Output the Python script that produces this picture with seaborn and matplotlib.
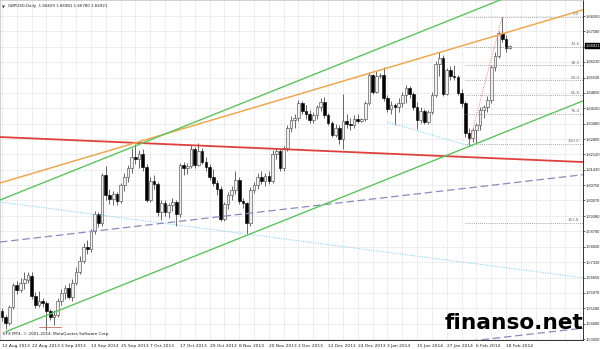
import numpy as np
import pandas as pd
import matplotlib
matplotlib.use("Agg")
import matplotlib.pyplot as plt
import matplotlib.transforms as mtransforms
import seaborn as sns

# ---------------- data ----------------
title_text = "GBPUSD,Daily  1.66829 1.66981 1.66780 1.66921"
copyright_text = "EFX MT4, \u00a9 2001-2014, MetaQuotes Software Corp."
watermark_text = "finanso.net"

dates = pd.bdate_range("2013-08-12", "2014-02-19")

opens = [1.5515,1.5490,1.5465,1.5535,1.5630,1.5610,1.5640,1.5655,1.5670,1.5585,
         1.5545,1.5560,1.5550,1.5515,1.5490,1.5500,1.5560,1.5595,1.5620,1.5580,
         1.5640,1.5690,1.5740,1.5800,1.5790,1.5870,1.5945,1.5905,1.6120,1.6030,
         1.6015,1.6035,1.6005,1.6075,1.6110,1.6150,1.6200,1.6190,1.6215,1.6155,
         1.6010,1.6095,1.6080,1.5955,1.5995,1.5955,1.5985,1.6000,1.5945,1.6165,
         1.6150,1.6160,1.6235,1.6165,1.6225,1.6180,1.6155,1.6110,1.6085,1.6060,
         1.5925,1.5990,1.6030,1.6055,1.6100,1.6005,1.5995,1.5905,1.6055,1.6075,
         1.6110,1.6095,1.6115,1.6095,1.6215,1.6225,1.6150,1.6240,1.6330,1.6365,
         1.6375,1.6440,1.6405,1.6390,1.6365,1.6385,1.6420,1.6445,1.6385,1.6350,
         1.6300,1.6330,1.6280,1.6360,1.6345,1.6340,1.6370,1.6360,1.6370,1.6440,
         1.6565,1.6490,1.6560,1.6565,1.6460,1.6415,1.6430,1.6420,1.6440,1.6475,
         1.6505,1.6480,1.6420,1.6365,1.6405,1.6355,1.6400,1.6475,1.6615,1.6640,
         1.6480,1.6585,1.6560,1.6555,1.6485,1.6440,1.6305,1.6285,1.6320,1.6340,
         1.6410,1.6420,1.6455,1.6600,1.6650,1.6750,1.6725,1.66829]
highs = [1.5530,1.5500,1.5545,1.5640,1.5650,1.5665,1.5690,1.5690,1.5690,1.5600,
         1.5605,1.5575,1.5560,1.5525,1.5520,1.5575,1.5615,1.5630,1.5640,1.5660,
         1.5710,1.5760,1.5820,1.5830,1.5880,1.5960,1.5955,1.6130,1.6160,1.6060,
         1.6050,1.6045,1.6085,1.6130,1.6165,1.6240,1.6259,1.6230,1.6235,1.6170,
         1.6110,1.6120,1.6090,1.6010,1.6010,1.5995,1.6020,1.6010,1.6175,1.6180,
         1.6175,1.6255,1.6245,1.6262,1.6240,1.6200,1.6170,1.6145,1.6100,1.6070,
         1.6000,1.6045,1.6070,1.6140,1.6110,1.6020,1.6000,1.6065,1.6090,1.6130,
         1.6140,1.6130,1.6140,1.6230,1.6240,1.6235,1.6250,1.6340,1.6380,1.6390,
         1.6455,1.6450,1.6430,1.6410,1.6400,1.6430,1.6460,1.6465,1.6395,1.6360,
         1.6345,1.6340,1.6480,1.6390,1.6375,1.6385,1.6390,1.6375,1.6450,1.6578,
         1.6570,1.6580,1.6575,1.6600,1.6475,1.6450,1.6440,1.6460,1.6490,1.6520,
         1.6515,1.6490,1.6445,1.6420,1.6415,1.6410,1.6490,1.6625,1.6665,1.6655,
         1.6595,1.6605,1.6610,1.6565,1.6500,1.6450,1.6330,1.6330,1.6350,1.6420,
         1.6430,1.6470,1.6610,1.6665,1.6760,1.6823,1.6740,1.66981]
lows = [1.5470,1.5435,1.5455,1.5525,1.5590,1.5600,1.5615,1.5640,1.5570,1.5530,
        1.5535,1.5535,1.5432,1.5475,1.5455,1.5490,1.5545,1.5570,1.5570,1.5560,
        1.5630,1.5680,1.5730,1.5770,1.5780,1.5860,1.5890,1.5895,1.6010,1.5990,
        1.5985,1.5985,1.5995,1.6050,1.6090,1.6130,1.6170,1.6150,1.6140,1.6000,
        1.6000,1.6060,1.5940,1.5920,1.5940,1.5930,1.5960,1.5895,1.5935,1.6120,
        1.6125,1.6150,1.6150,1.6160,1.6170,1.6140,1.6100,1.6070,1.6030,1.5915,
        1.5915,1.5970,1.6010,1.6035,1.5990,1.5975,1.5860,1.5895,1.6040,1.6060,
        1.6080,1.6070,1.6080,1.6085,1.6190,1.6140,1.6140,1.6225,1.6310,1.6330,
        1.6360,1.6390,1.6370,1.6350,1.6350,1.6370,1.6405,1.6375,1.6340,1.6290,
        1.6290,1.6260,1.6235,1.6330,1.6320,1.6330,1.6350,1.6355,1.6360,1.6430,
        1.6480,1.6485,1.6550,1.6450,1.6400,1.6390,1.6340,1.6400,1.6420,1.6440,
        1.6460,1.6410,1.6325,1.6350,1.6345,1.6345,1.6390,1.6465,1.6560,1.6470,
        1.6475,1.6540,1.6540,1.6475,1.6420,1.6290,1.6252,1.6265,1.6262,1.6320,
        1.6375,1.6400,1.6440,1.6580,1.6640,1.6710,1.6665,1.66780]
closes = [1.5490,1.5465,1.5535,1.5630,1.5610,1.5640,1.5660,1.5675,1.5585,1.5545,
          1.5560,1.5550,1.5515,1.5490,1.5500,1.5560,1.5595,1.5620,1.5580,1.5640,
          1.5690,1.5740,1.5800,1.5790,1.5870,1.5945,1.5905,1.6120,1.6030,1.6015,
          1.6035,1.6005,1.6075,1.6110,1.6150,1.6200,1.6190,1.6215,1.6155,1.6010,
          1.6095,1.6080,1.5955,1.5995,1.5955,1.5985,1.6000,1.5945,1.6165,1.6150,
          1.6160,1.6235,1.6165,1.6225,1.6180,1.6155,1.6110,1.6085,1.6060,1.5925,
          1.5990,1.6030,1.6055,1.6100,1.6005,1.5995,1.5905,1.6055,1.6075,1.6110,
          1.6095,1.6115,1.6095,1.6215,1.6225,1.6150,1.6240,1.6330,1.6365,1.6375,
          1.6440,1.6405,1.6390,1.6365,1.6385,1.6420,1.6445,1.6385,1.6350,1.6300,
          1.6330,1.6280,1.6360,1.6345,1.6340,1.6370,1.6360,1.6370,1.6440,1.6565,
          1.6490,1.6560,1.6565,1.6460,1.6415,1.6430,1.6420,1.6440,1.6475,1.6505,
          1.6480,1.6420,1.6365,1.6405,1.6355,1.6400,1.6475,1.6615,1.6640,1.6480,
          1.6585,1.6560,1.6555,1.6485,1.6440,1.6305,1.6285,1.6320,1.6340,1.6410,
          1.6420,1.6455,1.6600,1.6650,1.6750,1.6725,1.6683,1.66921]

date_label_bars = [0, 8, 16, 24, 32, 40, 48, 56, 64, 72, 80, 88, 96, 104, 112, 120, 128, 136]
date_labels = ["12 Aug 2013", "22 Aug 2013", "3 Sep 2013", "13 Sep 2013", "25 Sep 2013",
               "7 Oct 2013", "17 Oct 2013", "29 Oct 2013", "8 Nov 2013", "20 Nov 2013",
               "2 Dec 2013", "12 Dec 2013", "24 Dec 2013", "3 Jan 2014", "15 Jan 2014",
               "27 Jan 2014", "6 Feb 2014", "18 Feb 2014"]

price_ticks = [1.53920, 1.54600, 1.55280, 1.55970, 1.56650, 1.57330, 1.58020, 1.58700,
               1.59380, 1.60070, 1.60750, 1.61430, 1.62120, 1.62800, 1.63480, 1.64160,
               1.64850, 1.65530, 1.66230, 1.66900, 1.67580, 1.68260]
current_price = 1.66921

# trend lines: (bar, price) anchors
green_upper = ([0, 100], [1.60127, 1.66707])
green_lower = ([1, 100], [1.54245, 1.60758])
orange_line = ([0, 100], [1.60873, 1.65761])
red_line = ([0, 100], [1.62884, 1.62178])
purple_dash = ([0, 100], [1.58236, 1.60136])
purple_dash2 = ([130, 150], [1.53898, 1.54275])
blue_dot = ([0, 100], [1.59991, 1.57854])
blue_seg = ([104, 127], [1.63555, 1.62445])
fib_diag = ([126, 135], [1.6258, 1.6823])
low_mark = ([10, 16], [1.5445, 1.5445])

fib_ratios = [0.0, 23.6, 38.2, 50.0, 61.8, 76.4, 100.0, 161.8]
fib_labels = ["0.0", "23.6", "38.2", "50.0", "61.8", "76.4", "100.0", "161.8"]
fib_high, fib_low, fib_start = 1.6823, 1.6258, 125

# ---------------- style ----------------
sns.set_theme(style="white")
plt.rcParams['font.family'] = ['DejaVu Sans']

W, H = 600, 349
fig = plt.figure(figsize=(W / 100, H / 100), dpi=100)
fig.patch.set_facecolor("white")
ax = fig.add_axes([0.0, 9 / H, 583 / W, 340 / H])
ax.set_facecolor("white")

XMIN, XMAX = -0.54, 156.77
YMIN, YMAX = 1.53876, 1.68972
ax.set_xlim(XMIN, XMAX)
ax.set_ylim(YMIN, YMAX)

# grid
grid_kw = dict(color="#d2d2d2", lw=0.5, ls=(0, (1, 1)), zorder=0)
for gx in np.arange(0, XMAX, 4):
    ax.axvline(gx, **grid_kw)
for gy in price_ticks:
    ax.axhline(gy, **grid_kw)

# candles
idx = np.arange(len(dates))
o = np.array(opens); h = np.array(highs); l = np.array(lows); c = np.array(closes)
up = c >= o
ax.vlines(idx, l, h, color="#404040", lw=0.55, zorder=2)
body_lo = np.minimum(o, c)
body_h = np.maximum(np.abs(c - o), 0.00012)
ax.bar(idx[up], body_h[up], bottom=body_lo[up], width=0.72,
       color="#f0f0f0", edgecolor="#404040", linewidth=0.4, zorder=3)
ax.bar(idx[~up], body_h[~up], bottom=body_lo[~up], width=0.72,
       color="#000000", edgecolor="#000000", linewidth=0.4, zorder=3)


def ray(anchor, start=None, end=None, **kw):
    (i0, i1), (p0, p1) = anchor
    s = (p1 - p0) / (i1 - i0)
    xa = XMIN if start is None else start
    xb = XMAX if end is None else end
    ax.plot([xa, xb], [p0 + s * (xa - i0), p0 + s * (xb - i0)], **kw)


ray(blue_dot, color="#8fd4f2", lw=0.8, ls=(0, (1, 1.2)), zorder=4)
ray(blue_seg, start=blue_seg[0][0], end=blue_seg[0][1], color="#8fd4f2", lw=0.8, ls=(0, (1, 1.2)), zorder=4)
ray(purple_dash, color="#8a8ac0", lw=0.9, ls=(0, (6, 3)), zorder=4)
ray(purple_dash2, color="#8a8ac0", lw=0.9, ls=(0, (6, 3)), zorder=4)
ray(red_line, color="#e0403c", lw=1.3, zorder=5)
ray(orange_line, color="#f0a850", lw=1.1, zorder=5)
ray(green_upper, color="#5cc45c", lw=1.0, zorder=5)
ray(green_lower, start=green_lower[0][0], color="#5cc45c", lw=1.0, zorder=5)
ray(fib_diag, start=fib_diag[0][0], end=fib_diag[0][1], color="#e08a8a", lw=0.7, ls=(0, (1, 1.2)), zorder=5)
ax.plot(low_mark[0], low_mark[1], color="#c07060", lw=0.6, zorder=4)

# fibonacci levels
for r, lab in zip(fib_ratios, fib_labels):
    lvl = fib_high - r / 100.0 * (fib_high - fib_low)
    ax.plot([fib_start, XMAX], [lvl, lvl], color="#8c8c8c", lw=0.6, ls=(0, (1, 1.5)), zorder=4)
    ax.text(155.8, lvl + 0.0003, lab, fontsize=3.0, color="#707070", ha="right", va="bottom", zorder=6)

# axes styling
for side in ["left", "top"]:
    ax.spines[side].set_color("#bdbdbd")
    ax.spines[side].set_linewidth(0.5)
for side in ["right", "bottom"]:
    ax.spines[side].set_color("#303030")
    ax.spines[side].set_linewidth(0.7)

label_font = ["Liberation Sans", "DejaVu Sans"]
ax.yaxis.tick_right()
ax.set_yticks(price_ticks)
ytl = ["" if abs(v - current_price) < 0.001 else f"{v:.5f}" for v in price_ticks]
ax.set_yticklabels(ytl, fontsize=2.9, color="#202020", family=label_font)
ax.tick_params(axis="y", which="major", length=1.2, width=0.5, pad=0.5, colors="#303030", labelcolor="#202020")
ax.set_xticks(date_label_bars)
ax.set_xticklabels(date_labels, fontsize=3.2, ha="left", color="#202020")
ax.tick_params(axis="x", which="major", length=1.8, width=0.5, pad=1.0, colors="#303030", labelcolor="#202020")

# current price box
trans = mtransforms.blended_transform_factory(ax.transAxes, ax.transData)
ax.text(1.004, current_price, f"{current_price:.5f}", transform=trans, fontsize=2.9,
        family=label_font, color="white", ha="left", va="center", zorder=10, clip_on=False,
        bbox=dict(boxstyle="square,pad=0.2", fc="black", ec="black", lw=0.3))

# header, copyright, watermark
ax.text(0.004, 0.985, "\u25bc", transform=ax.transAxes, fontsize=2.8, color="#404040", ha="left", va="top")
ax.text(0.014, 0.988, title_text, transform=ax.transAxes, fontsize=2.9, color="#202020", ha="left", va="top")
ax.text(0.005, 0.012, copyright_text, transform=ax.transAxes, fontsize=3.0, color="#202020", ha="left", va="bottom", zorder=7)
fig.text(583 / W, 20 / H, watermark_text, fontsize=15.6, fontweight="bold", color="black",
         ha="right", va="baseline", zorder=20)

fig.savefig("out.png", dpi=100, facecolor="white")
